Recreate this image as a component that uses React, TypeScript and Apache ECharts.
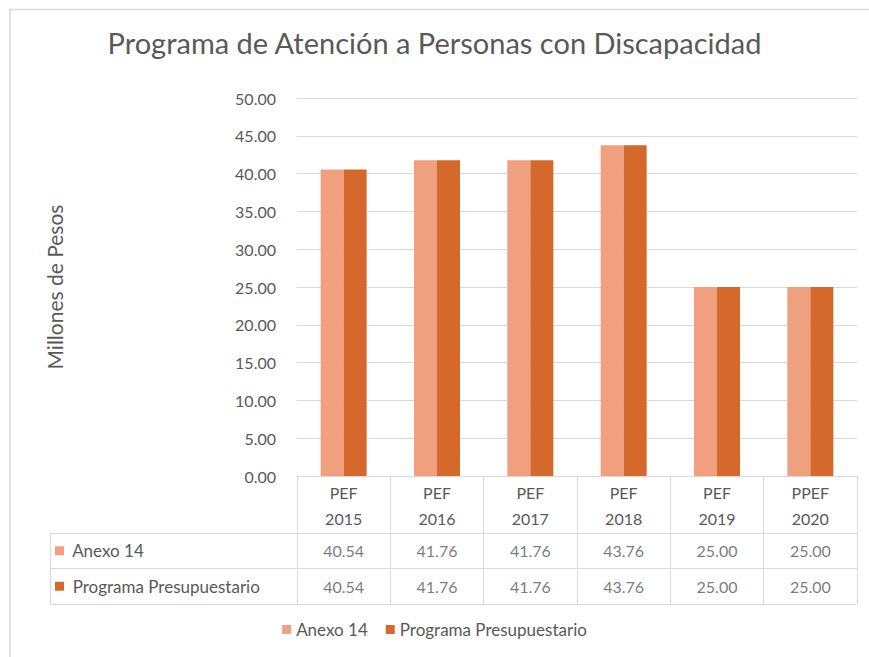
import React, { useEffect, useRef } from "react";
import * as echarts from "echarts";

const categories = ["PEF\n2015", "PEF\n2016", "PEF\n2017", "PEF\n2018", "PEF\n2019", "PPEF\n2020"];
const anexo14 = [40.54, 41.76, 41.76, 43.76, 25.0, 25.0];
const programa = [40.54, 41.76, 41.76, 43.76, 25.0, 25.0];
const seriesNames = ["Anexo 14", "Programa Presupuestario"];
const colors = ["#F0A07E", "#D5692B"];
const TXT = "#595959";
const LINE = "#D9D9D9";
const FONT = "Lato";

export default function App() {
  const ref = useRef<HTMLDivElement>(null);
  useEffect(() => {
    if (!ref.current) return;
    const chart = echarts.init(ref.current, null, { renderer: "svg" });
    const values = [anexo14, programa];
    const cellData: any[] = [];
    values.forEach((arr, r) => arr.forEach((v, c) => cellData.push({ value: [c, r, v] })));
    chart.setOption({
      animation: false,
      backgroundColor: "#fff",
      textStyle: { fontFamily: FONT },
      title: {
        text: "Programa de Atención a Personas con Discapacidad",
        left: "center",
        top: 23,
        textStyle: { fontFamily: FONT, fontSize: 29, fontWeight: "normal", color: TXT },
      },
      graphic: [
        {
          type: "polyline",
          shape: { points: [[10, 700], [10, 9.5], [900, 9.5]] },
          style: { stroke: LINE, fill: "none", lineWidth: 1.5 },
          silent: true,
        },
      ],
      legend: {
        data: seriesNames,
        bottom: 14,
        left: "center",
        icon: "rect",
        itemWidth: 9,
        itemHeight: 9,
        itemGap: 18,
        textStyle: { fontFamily: FONT, fontSize: 17, color: TXT },
      },
      grid: [
        { left: 297, right: 12, top: 98, bottom: 181, containLabel: false },
        { left: 297, right: 12, top: 533, height: 71, containLabel: false },
      ],
      xAxis: [
        {
          type: "category",
          gridIndex: 0,
          data: categories,
          axisLine: { show: true, lineStyle: { color: LINE } },
          axisTick: { show: true, length: 57, interval: 0, lineStyle: { color: LINE } },
          axisLabel: { interval: 0, color: TXT, fontSize: 16, lineHeight: 26, margin: 3, fontFamily: FONT },
        },
        {
          type: "category",
          gridIndex: 1,
          data: categories,
          axisLine: { show: true, lineStyle: { color: LINE } },
          axisTick: { show: false },
          axisLabel: { show: false },
          splitLine: { show: true, interval: 0, lineStyle: { color: LINE } },
        },
      ],
      yAxis: [
        {
          type: "value",
          gridIndex: 0,
          min: 0,
          max: 50,
          interval: 5,
          name: "Millones de Pesos",
          nameLocation: "middle",
          nameGap: 232,
          nameTextStyle: { fontFamily: FONT, fontSize: 21, color: TXT },
          axisLine: { show: false },
          axisTick: { show: false },
          axisLabel: { color: TXT, fontSize: 16, margin: 21, fontFamily: FONT, formatter: (v: number) => v.toFixed(2) },
          splitLine: { show: true, lineStyle: { color: LINE } },
        },
        {
          type: "category",
          gridIndex: 1,
          data: seriesNames,
          inverse: true,
          axisLine: { show: true, lineStyle: { color: LINE } },
          axisTick: { show: true, length: 247, interval: 0, lineStyle: { color: LINE } },
          splitLine: { show: true, interval: 0, lineStyle: { color: LINE } },
          axisLabel: {
            interval: 0,
            align: "left",
            margin: 242,
            color: TXT,
            fontSize: 17,
            fontFamily: FONT,
            formatter: (v: string) => (v === seriesNames[0] ? "{a|}  " + v : "{b|}  " + v),
            rich: {
              a: { width: 9, height: 9, backgroundColor: colors[0] },
              b: { width: 9, height: 9, backgroundColor: colors[1] },
            },
          },
        },
        {
          type: "category",
          gridIndex: 1,
          data: seriesNames,
          position: "left",
          offset: 247,
          axisLine: { show: true, lineStyle: { color: LINE } },
          axisTick: { show: false },
          axisLabel: { show: false },
          splitLine: { show: false },
        },
      ],
      series: [
        {
          name: seriesNames[0],
          type: "bar",
          xAxisIndex: 0,
          yAxisIndex: 0,
          data: anexo14,
          barWidth: 23,
          barGap: "0%",
          itemStyle: { color: colors[0] },
        },
        {
          name: seriesNames[1],
          type: "bar",
          xAxisIndex: 0,
          yAxisIndex: 0,
          data: programa,
          barWidth: 23,
          barGap: "0%",
          itemStyle: { color: colors[1] },
        },
        {
          type: "scatter",
          xAxisIndex: 1,
          yAxisIndex: 1,
          data: cellData,
          symbolSize: 0,
          itemStyle: { color: "rgba(0,0,0,0)" },
          silent: true,
          label: {
            show: true,
            position: "inside",
            color: TXT,
            fontSize: 16,
            fontFamily: FONT,
            formatter: (p: any) => Number(p.value[2]).toFixed(2),
          },
        },
      ],
    });
    return () => chart.dispose();
  }, []);
  return <div ref={ref} style={{ position: "fixed", left: 0, top: 0, width: 869, height: 657 }} />;
}
